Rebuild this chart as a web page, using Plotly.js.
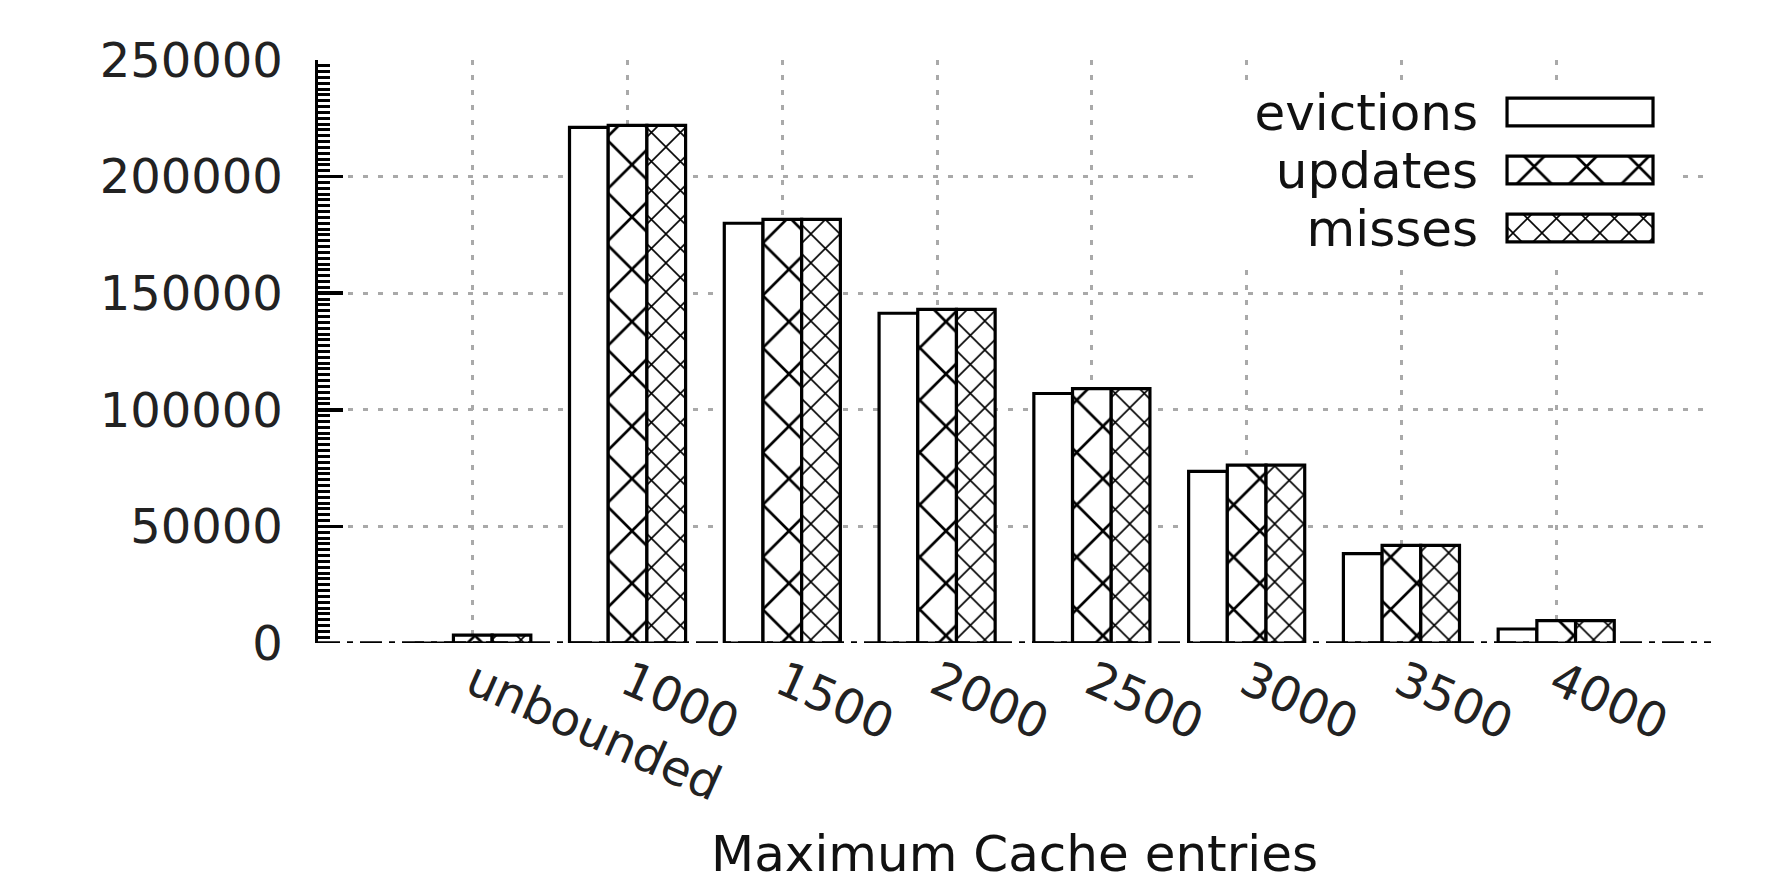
<!DOCTYPE html>
<html>
<head>
<meta charset="utf-8">
<script src="https://cdn.plot.ly/plotly-3.0.1.min.js"></script>
<style>
  html, body { margin: 0; padding: 0; background: #ffffff; }
  #chart { width: 1783px; height: 883px; }
</style>
</head>
<body>
<div id="chart"></div>
<script>
// Cache size sweep: counts per maximum number of cache entries
const categories = ['unbounded', '1000', '1500', '2000', '2500', '3000', '3500', '4000'];
const evictions = [0, 221100, 180000, 141400, 107000, 73600, 38300, 6000];
const updates   = [3400, 222000, 181700, 143100, 109100, 76300, 41900, 9600];
const misses    = [3400, 222000, 181700, 143100, 109100, 76300, 41900, 9600];
const seriesNames = ['evictions', 'updates', 'misses'];
const yTicks = [0, 50000, 100000, 150000, 200000, 250000];

const FONT = 'DejaVu Sans, Liberation Sans, sans-serif';
const TEXT = '#222222';
const GRID = '#a9a9a9';

// Fill style per series: plain, coarse cross-hatch, fine cross-hatch
const styles = {
  evictions: { shape: '',  size: 8,    solidity: 0.2 },
  updates:   { shape: 'x', size: 37,   solidity: 0.14 },
  misses:    { shape: 'x', size: 20.5, solidity: 0.15 }
};

function patternOf(names) {
  return {
    shape: names.map(n => styles[n].shape),
    size: names.map(n => styles[n].size),
    solidity: names.map(n => styles[n].solidity),
    fgcolor: '#000000', bgcolor: '#ffffff', fillmode: 'replace'
  };
}

const seriesValues = { evictions: evictions, updates: updates, misses: misses };

const traces = seriesNames.map(name => ({
  type: 'bar',
  name: name,
  x: categories,
  y: seriesValues[name],
  cliponaxis: false,
  marker: {
    color: '#ffffff',
    line: { color: '#000000', width: 3.2 },
    pattern: {
      shape: styles[name].shape, size: styles[name].size, solidity: styles[name].solidity,
      fgcolor: '#000000', bgcolor: '#ffffff', fillmode: 'replace'
    }
  },
  showlegend: false,
  hoverinfo: 'x+y+name'
}));

// Key drawn as its own small subplot: labels on the left, swatches on the right
const keyOrder = seriesNames.slice().reverse();          // bottom to top
const keySlots = keyOrder.map((_, i) => i);
const keyRangeX = [-2.144, 1.192];
const keyRangeY = [-0.672, 2.414];

// opaque panel filling the key area so the grid does not run behind it
traces.push({
  type: 'bar', orientation: 'h', xaxis: 'x2', yaxis: 'y2',
  x: [keyRangeX[1] - keyRangeX[0]],
  base: keyRangeX[0],
  y: [(keyRangeY[0] + keyRangeY[1]) / 2],
  width: keyRangeY[1] - keyRangeY[0],
  offsetgroup: 'key',
  marker: { color: '#ffffff', line: { width: 0 } },
  showlegend: false, hoverinfo: 'skip'
});

// swatches
traces.push({
  type: 'bar', orientation: 'h', xaxis: 'x2', yaxis: 'y2',
  x: keySlots.map(() => 1),
  base: 0,
  y: keySlots,
  width: 0.48,
  offsetgroup: 'key',
  marker: { color: '#ffffff', line: { color: '#000000', width: 3.2 }, pattern: patternOf(keyOrder) },
  showlegend: false, hoverinfo: 'skip'
});

const layout = {
  width: 1783,
  height: 883,
  margin: { l: 318, r: 72, t: 60, b: 240, pad: 0 },
  paper_bgcolor: '#ffffff',
  plot_bgcolor: 'rgba(0,0,0,0)',
  font: { family: FONT, size: 48, color: TEXT },
  barmode: 'group',
  bargap: 0.25,
  bargroupgap: 0,
  showlegend: false,
  xaxis: {
    type: 'category',
    categoryorder: 'array',
    categoryarray: categories,
    range: [-1, 8],
    showgrid: true,
    gridcolor: GRID,
    gridwidth: 3,
    griddash: '5px,10px',
    zeroline: false,
    showline: false,
    ticks: '',
    tickangle: 24,
    tickfont: { family: FONT, size: 48, color: TEXT },
    ticklabelstandoff: 1,
    title: { text: 'Maximum Cache entries', font: { family: FONT, size: 50, color: '#111111' }, standoff: 26 },
    fixedrange: true
  },
  yaxis: {
    range: [0, 250000],
    tickmode: 'array',
    tickvals: yTicks,
    ticktext: yTicks.map(String),
    showgrid: true,
    gridcolor: GRID,
    gridwidth: 3,
    griddash: '5px,10px',
    zeroline: false,
    showline: true,
    linecolor: '#000000',
    linewidth: 3.5,
    ticks: 'inside',
    ticklen: 25,
    tickwidth: 3.5,
    tickcolor: '#000000',
    minor: { ticks: 'inside', ticklen: 12, tickwidth: 3, tickcolor: '#000000', dtick: 2500, tick0: 0, showgrid: false },
    tickfont: { family: FONT, size: 48, color: TEXT },
    ticklabelstandoff: 22,
    fixedrange: true
  },
  xaxis2: {
    domain: [0.6289, 0.9785],
    anchor: 'y2',
    range: keyRangeX,
    visible: false,
    fixedrange: true
  },
  yaxis2: {
    domain: [0.6449, 0.9520],
    anchor: 'free',
    position: 0.845,
    range: keyRangeY,
    tickmode: 'array',
    tickvals: keySlots,
    ticktext: keyOrder,
    showgrid: false,
    zeroline: false,
    showline: false,
    ticks: '',
    tickfont: { family: FONT, size: 50, color: '#111111' },
    ticklabelstandoff: 17,
    fixedrange: true
  },
  shapes: [
    // dash-dot base line along y = 0
    { type: 'line', xref: 'paper', yref: 'y', x0: 0, x1: 1, y0: 0, y1: 0,
      line: { color: '#000000', width: 3.5, dash: '22px,7px,6px,7px' }, layer: 'above' }
  ]
};

Plotly.newPlot('chart', traces, layout, { displayModeBar: false, staticPlot: true });
</script>
</body>
</html>
